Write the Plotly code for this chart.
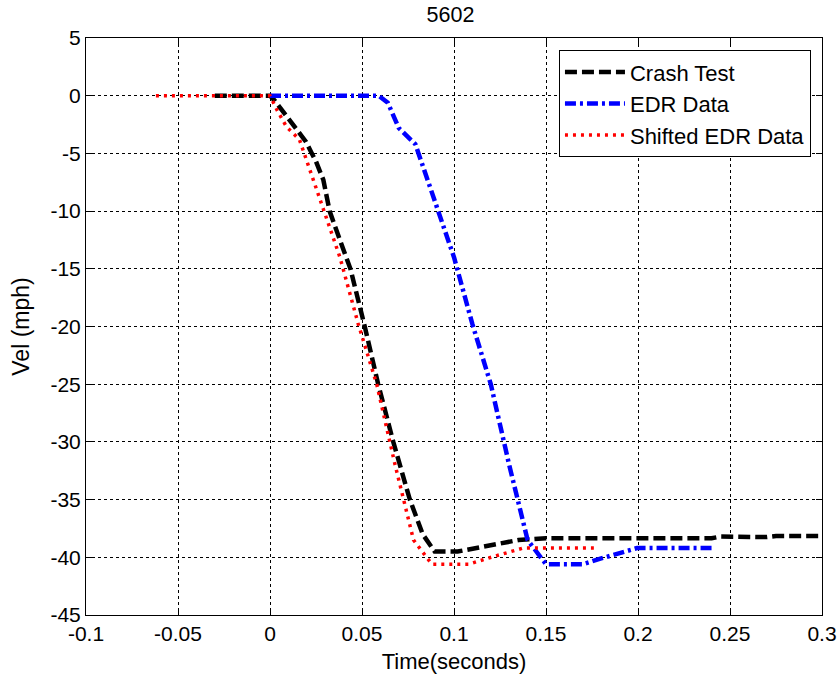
import plotly.graph_objects as go

# Crash Test (black dashed)
crash_t = [-0.03, 0.0, 0.0024, 0.0078, 0.013, 0.017, 0.0196, 0.0224, 0.025, 0.029, 0.0324,
           0.038, 0.0437, 0.0515, 0.0588, 0.067, 0.076, 0.083, 0.0895, 0.102, 0.12, 0.135,
           0.15, 0.2, 0.24, 0.245, 0.27, 0.275, 0.3]
crash_v = [0.0, 0.0, -0.4, -1.5, -2.5, -3.4, -4.0, -4.9, -5.7, -7.3, -10.0,
           -12.5, -15.0, -20.0, -25.0, -30.0, -35.0, -38.0, -39.5, -39.5, -39.0, -38.5,
           -38.35, -38.35, -38.35, -38.2, -38.25, -38.15, -38.15]

# EDR Data (blue dash-dot)
edr_t = [0.0, 0.059, 0.064, 0.070, 0.079, 0.090, 0.100, 0.110, 0.120, 0.130, 0.140,
         0.150, 0.170, 0.180, 0.186, 0.1995, 0.240]
edr_v = [0.0, 0.0, -0.6, -2.8, -4.2, -9.3, -14.0, -19.8, -25.0, -32.0, -38.5,
         -40.6, -40.6, -40.1, -39.8, -39.2, -39.2]

# Shifted EDR Data (red dotted)
shift_t = [-0.062, 0.0, 0.004, 0.009, 0.016, 0.028, 0.038, 0.048, 0.058, 0.068, 0.078,
           0.088, 0.108, 0.118, 0.124, 0.1375, 0.176]
shift_v = [0.0, 0.0, -1.3, -2.7, -3.8, -9.3, -14.0, -19.8, -25.0, -32.0, -38.5,
           -40.6, -40.6, -40.1, -39.8, -39.2, -39.2]

x_ticks = [-0.1, -0.05, 0, 0.05, 0.1, 0.15, 0.2, 0.25, 0.3]
x_labels = ["-0.1", "-0.05", "0", "0.05", "0.1", "0.15", "0.2", "0.25", "0.3"]
y_ticks = [5, 0, -5, -10, -15, -20, -25, -30, -35, -40, -45]
y_labels = [str(v) for v in y_ticks]

fig = go.Figure()
fig.add_trace(go.Scatter(x=crash_t, y=crash_v, mode="lines", name="Crash Test",
                         line=dict(color="black", width=4.5, dash="12px,5px")))
fig.add_trace(go.Scatter(x=edr_t, y=edr_v, mode="lines", name="EDR Data",
                         line=dict(color="blue", width=4.5, dash="11px,4px,3px,4px")))
fig.add_trace(go.Scatter(x=shift_t, y=shift_v, mode="lines", name="Shifted EDR Data",
                         line=dict(color="red", width=3.5, dash="3px,5px")))

font = "Liberation Sans, Arial, sans-serif"
axis_common = dict(
    showline=True, linecolor="black", linewidth=1, mirror="ticks",
    ticks="inside", ticklen=6, tickcolor="black",
    showgrid=True, gridcolor="black", griddash="dot", gridwidth=1,
    zeroline=False, automargin=False,
    tickfont=dict(size=21, color="black", family=font),
)

fig.update_layout(
    width=839, height=679,
    margin=dict(l=86, r=17, t=38, b=64, autoexpand=False),
    paper_bgcolor="white", plot_bgcolor="white",
    title=dict(text="5602", x=0.537, xanchor="center", y=0.99, yanchor="top",
               font=dict(size=21.5, color="black", family=font)),
    font=dict(family=font, color="black"),
    xaxis=dict(range=[-0.1, 0.3], tickvals=x_ticks, ticktext=x_labels,
               title=dict(text="Time(seconds)", font=dict(size=22), standoff=9),
               **axis_common),
    yaxis=dict(range=[-45, 5], tickvals=y_ticks, ticktext=y_labels,
               title=dict(text="Vel (mph)", font=dict(size=23), standoff=14),
               **axis_common),
    legend=dict(x=0.985, y=0.979, xanchor="right", yanchor="top",
                bgcolor="white", bordercolor="black", borderwidth=1,
                font=dict(size=22, color="black", family=font),
                tracegroupgap=0, itemwidth=60),
    showlegend=True,
)

fig.write_html("out.html")
